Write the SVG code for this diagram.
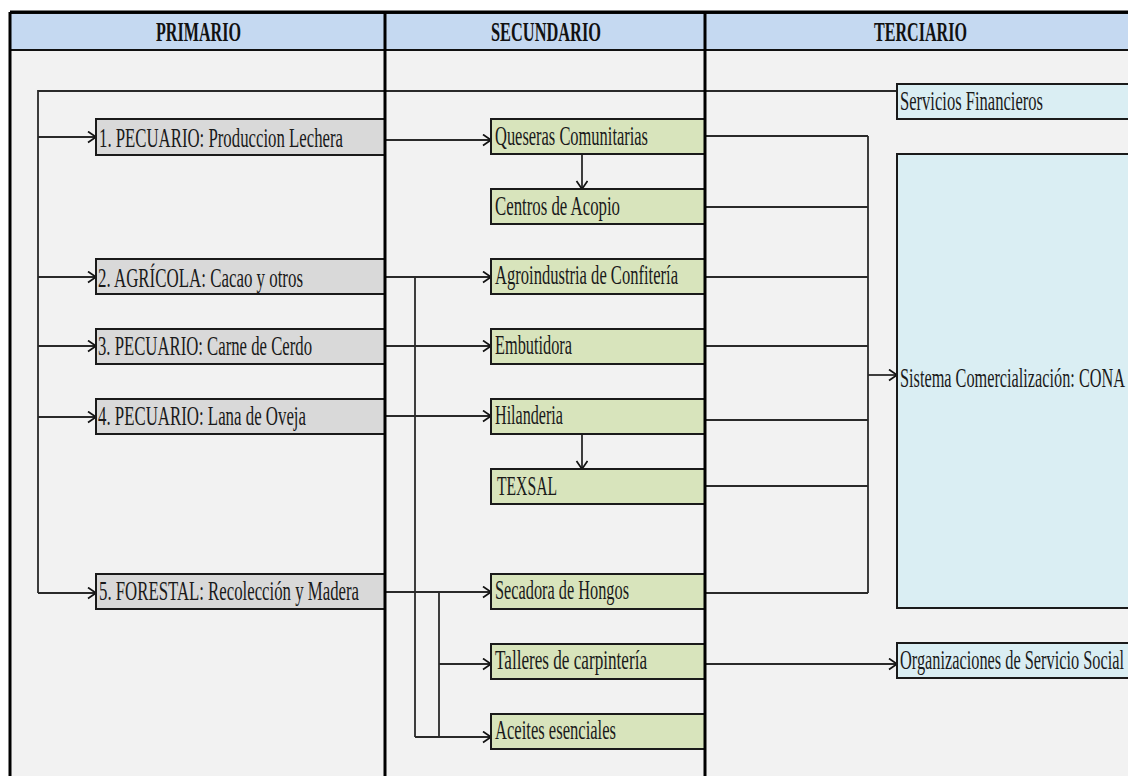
<svg xmlns="http://www.w3.org/2000/svg" width="1128" height="776" viewBox="0 0 1128 776">
<defs>
<marker id="arr" markerUnits="userSpaceOnUse" markerWidth="12" markerHeight="14" refX="9" refY="6" orient="auto">
<path d="M1,0.5 L9,6 L1,11.5" fill="none" stroke="#111" stroke-width="1.7"/>
</marker>
<style>
.bg{fill:#f2f2f2}
.hdr{fill:#c5d9f1;stroke:#111;stroke-width:2}
.ht{font-family:"Liberation Serif",serif;font-weight:bold;font-size:27px;fill:#111;text-anchor:start}
.frame{fill:none;stroke:#000;stroke-width:3}
.p{fill:#d9d9d9;stroke:#1a1a1a;stroke-width:2}
.s{fill:#d8e4bc;stroke:#1a1a1a;stroke-width:2}
.t{fill:#daeef3;stroke:#1a1a1a;stroke-width:2}
.lbl{font-family:"Liberation Serif",serif;font-size:27px;fill:#1a1a1a}
.c{fill:none;stroke:#2a2a2a;stroke-width:1.8}
.ca{fill:none;stroke:#2a2a2a;stroke-width:1.8;marker-end:url(#arr)}
</style>
</defs>
<rect x="0" y="0" width="1128" height="776" fill="#ffffff"/>
<rect class="bg" x="10" y="12" width="1118" height="764"/>
<g id="header">
<rect class="hdr" x="10" y="13" width="1120" height="37"/>
<text class="ht" x="156" y="41" textLength="85" lengthAdjust="spacingAndGlyphs">PRIMARIO</text>
<text class="ht" x="491" y="41" textLength="110" lengthAdjust="spacingAndGlyphs">SECUNDARIO</text>
<text class="ht" x="874" y="41" textLength="93" lengthAdjust="spacingAndGlyphs">TERCIARIO</text>
</g>

<g id="connectors">
<polyline class="c" points="897,91 38,91 38,593"/>
<line class="ca" x1="38" y1="137" x2="96" y2="137"/>
<line class="ca" x1="38" y1="277" x2="96" y2="277"/>
<line class="ca" x1="38" y1="346" x2="96" y2="346"/>
<line class="ca" x1="38" y1="417" x2="96" y2="417"/>
<line class="ca" x1="38" y1="593" x2="96" y2="593"/>

<line class="ca" x1="385" y1="140" x2="491" y2="140"/>
<line class="ca" x1="385" y1="277" x2="491" y2="277"/>
<line class="ca" x1="385" y1="346" x2="491" y2="346"/>
<line class="ca" x1="385" y1="416" x2="491" y2="416"/>
<line class="ca" x1="385" y1="592" x2="491" y2="592"/>
<line class="c" x1="415" y1="277" x2="415" y2="737"/>
<line class="ca" x1="415" y1="737" x2="491" y2="737"/>
<line class="c" x1="439" y1="592" x2="439" y2="737"/>
<line class="ca" x1="439" y1="664" x2="491" y2="664"/>

<line class="ca" x1="582" y1="154" x2="582" y2="189"/>
<line class="ca" x1="582" y1="434" x2="582" y2="469"/>

<line class="c" x1="705" y1="136" x2="868" y2="136"/>
<line class="c" x1="705" y1="207" x2="868" y2="207"/>
<line class="c" x1="705" y1="277" x2="868" y2="277"/>
<line class="c" x1="705" y1="346" x2="868" y2="346"/>
<line class="c" x1="705" y1="420" x2="868" y2="420"/>
<line class="c" x1="705" y1="486" x2="868" y2="486"/>
<line class="c" x1="705" y1="593" x2="868" y2="593"/>
<line class="c" x1="868" y1="136" x2="868" y2="593"/>
<line class="ca" x1="868" y1="375" x2="897" y2="375"/>
<line class="ca" x1="705" y1="664" x2="897" y2="664"/>
</g>

<g id="p1"><rect class="p" x="96" y="119" width="289" height="36"/><text class="lbl" x="99" y="147" textLength="244" lengthAdjust="spacingAndGlyphs">1. PECUARIO: Produccion Lechera</text></g>
<g id="p2"><rect class="p" x="96" y="259" width="289" height="35"/><text class="lbl" x="98" y="287" textLength="205" lengthAdjust="spacingAndGlyphs">2. AGRÍCOLA: Cacao y otros</text></g>
<g id="p3"><rect class="p" x="96" y="329" width="289" height="35"/><text class="lbl" x="98" y="355" textLength="214" lengthAdjust="spacingAndGlyphs">3. PECUARIO: Carne de Cerdo</text></g>
<g id="p4"><rect class="p" x="96" y="399" width="289" height="35"/><text class="lbl" x="98" y="425" textLength="208" lengthAdjust="spacingAndGlyphs">4. PECUARIO: Lana de Oveja</text></g>
<g id="p5"><rect class="p" x="96" y="574" width="289" height="35"/><text class="lbl" x="99" y="600" textLength="260" lengthAdjust="spacingAndGlyphs">5. FORESTAL: Recolección y Madera</text></g>

<g id="s1"><rect class="s" x="491" y="119" width="214" height="35"/><text class="lbl" x="495" y="145" textLength="153" lengthAdjust="spacingAndGlyphs">Queseras Comunitarias</text></g>
<g id="s2"><rect class="s" x="491" y="189" width="214" height="35"/><text class="lbl" x="495" y="215" textLength="125" lengthAdjust="spacingAndGlyphs">Centros de Acopio</text></g>
<g id="s3"><rect class="s" x="491" y="259" width="214" height="35"/><text class="lbl" x="495" y="284" textLength="183" lengthAdjust="spacingAndGlyphs">Agroindustria de Confitería</text></g>
<g id="s4"><rect class="s" x="491" y="329" width="214" height="35"/><text class="lbl" x="495" y="354" textLength="77" lengthAdjust="spacingAndGlyphs">Embutidora</text></g>
<g id="s5"><rect class="s" x="491" y="399" width="214" height="35"/><text class="lbl" x="495" y="424" textLength="68" lengthAdjust="spacingAndGlyphs">Hilanderia</text></g>
<g id="s6"><rect class="s" x="491" y="469" width="214" height="35"/><text class="lbl" x="497" y="495" textLength="60" lengthAdjust="spacingAndGlyphs">TEXSAL</text></g>
<g id="s7"><rect class="s" x="491" y="574" width="214" height="35"/><text class="lbl" x="495" y="599" textLength="134" lengthAdjust="spacingAndGlyphs">Secadora de Hongos</text></g>
<g id="s8"><rect class="s" x="491" y="644" width="214" height="35"/><text class="lbl" x="495" y="669" textLength="152" lengthAdjust="spacingAndGlyphs">Talleres de carpintería</text></g>
<g id="s9"><rect class="s" x="491" y="714" width="214" height="35"/><text class="lbl" x="495" y="739" textLength="121" lengthAdjust="spacingAndGlyphs">Aceites esenciales</text></g>

<g id="t1"><rect class="t" x="897" y="84" width="233" height="35"/><text class="lbl" x="900" y="110" textLength="143" lengthAdjust="spacingAndGlyphs">Servicios Financieros</text></g>
<g id="t2"><rect class="t" x="897" y="154" width="233" height="454"/><text class="lbl" x="900" y="387" textLength="225" lengthAdjust="spacingAndGlyphs">Sistema Comercialización: CONA</text></g>
<g id="t3"><rect class="t" x="897" y="643" width="233" height="35"/><text class="lbl" x="900" y="669" textLength="224" lengthAdjust="spacingAndGlyphs">Organizaciones de Servicio Social</text></g>

<g id="frame">
<line class="frame" x1="10" y1="12" x2="1128" y2="12"/>
<line class="frame" x1="10" y1="12" x2="10" y2="776"/>
<line class="frame" x1="385" y1="12" x2="385" y2="776"/>
<line class="frame" x1="705" y1="12" x2="705" y2="776"/>
</g>
</svg>
